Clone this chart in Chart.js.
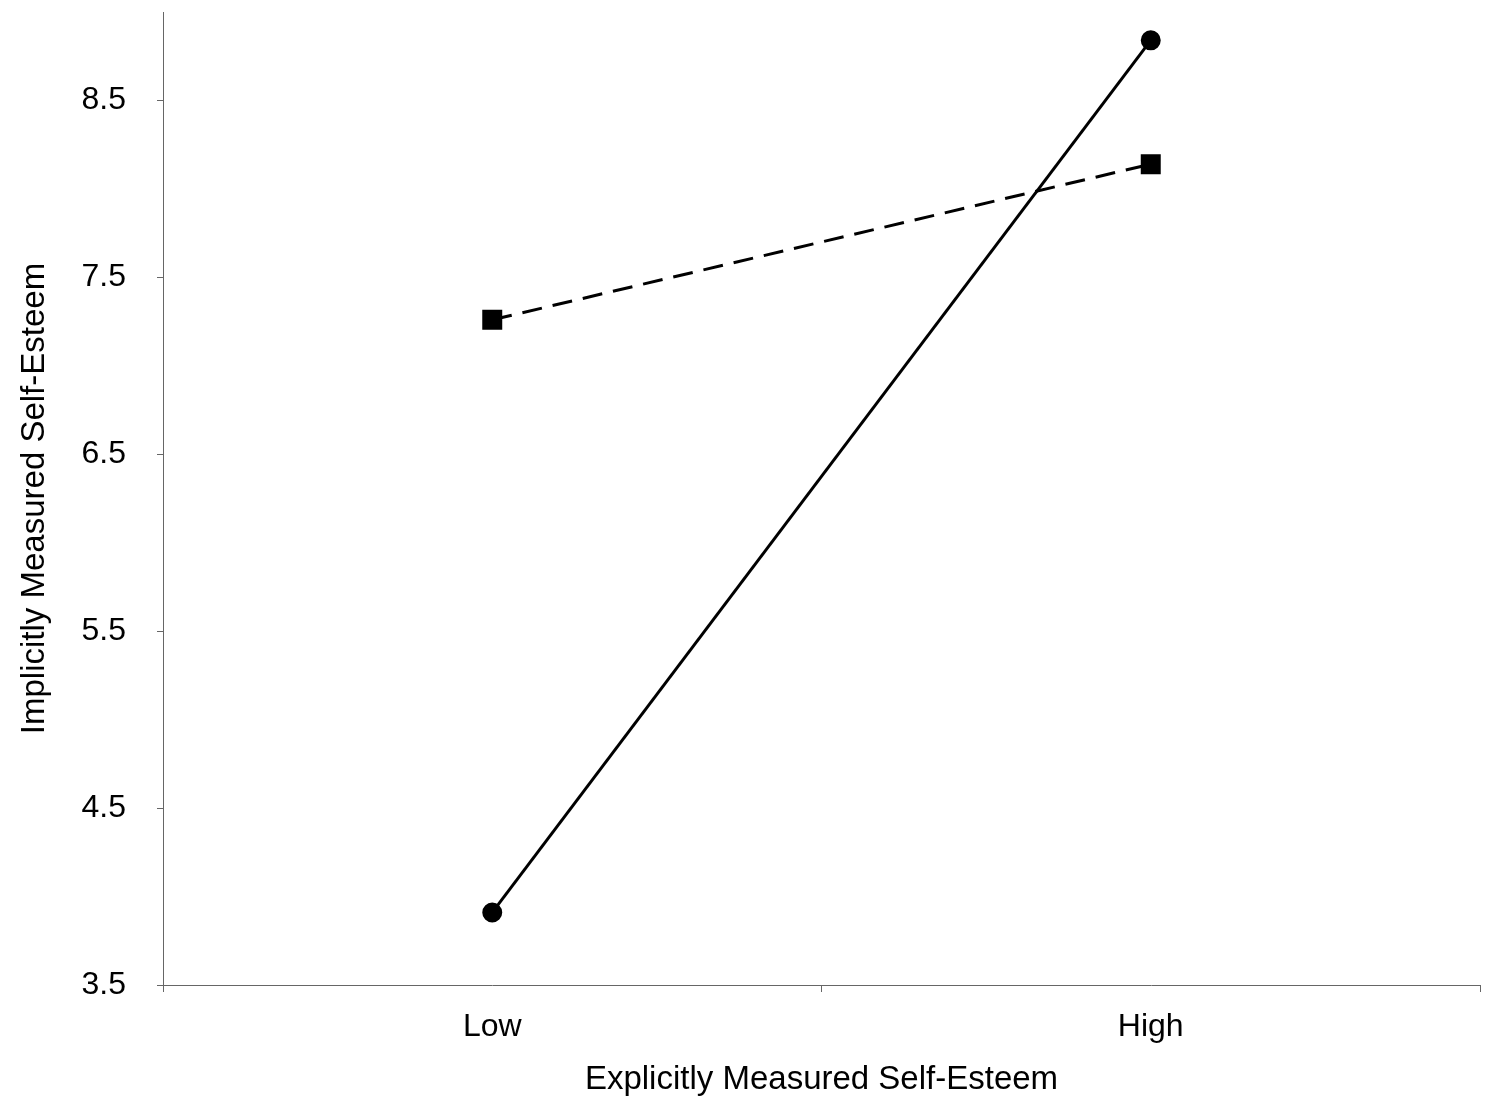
<!DOCTYPE html>
<html>
<head>
<meta charset="utf-8">
<script src="https://cdn.jsdelivr.net/npm/chart.js@4"></script>
<style>
  html, body { margin: 0; padding: 0; background: #fff; }
  #wrap { width: 1494px; height: 1100px; }
</style>
</head>
<body>
<div id="wrap"><canvas id="line-chart" width="1494" height="1100"></canvas></div>
<script>
categories = ['Low', 'High'];
solidValues = [3.91, 8.84];   // circles, solid line
dashedValues = [7.26, 8.14];  // squares, dashed line
yTicks = [3.5, 4.5, 5.5, 6.5, 7.5, 8.5];
xTitle = 'Explicitly Measured Self-Esteem';
yTitle = 'Implicitly Measured Self-Esteem';

font = 'Liberation Sans, Arial, Helvetica, sans-serif';

datasets = [
  {data: solidValues, borderColor: '#000', backgroundColor: '#000', borderWidth: 3,
   pointStyle: 'circle', pointRadius: 8.5, pointHoverRadius: 8.5, tension: 0},
  {data: dashedValues, borderColor: '#000', backgroundColor: '#000', borderWidth: 3,
   borderDash: [20, 11], pointStyle: 'rect', pointRadius: 12, pointHoverRadius: 12, tension: 0}
];

const createChart = () => {
  new Chart(document.getElementById('line-chart'), {
    type: 'line',
    data: {labels: categories, datasets: datasets},
    options: {
      responsive: false,
      animation: false,
      layout: {autoPadding: false, padding: {top: 12, right: 14, left: 10, bottom: 0}},
      plugins: {legend: {display: false}, tooltip: {enabled: false}},
      scales: {
        x: {
          offset: true,
          grid: {offset: true, drawOnChartArea: false, tickLength: 7, color: '#666'},
          border: {color: '#666', width: 1},
          ticks: {color: '#000', font: {family: font, size: 32}, padding: 16},
          title: {display: true, text: xTitle, color: '#000', font: {family: font, size: 33}, padding: {top: 0, bottom: 0}},
          afterFit: (s) => { s.height = 115; s.paddingLeft = 0; s.paddingRight = 0; }
        },
        y: {
          min: 3.5,
          max: 9.0,
          afterBuildTicks: (axis) => { axis.ticks = yTicks.map(v => ({value: v})); },
          grid: {drawOnChartArea: false, tickLength: 6, color: '#666'},
          border: {color: '#666', width: 1},
          ticks: {color: '#000', font: {family: font, size: 32}, padding: 31,
                  callback: (v) => Number(v).toFixed(1)},
          title: {display: true, text: yTitle, color: '#000', font: {family: font, size: 33}, padding: {top: 5, bottom: 0}},
          afterFit: (s) => { s.width = 153; s.paddingTop = 0; s.paddingBottom = 0; }
        }
      }
    }
  });
};

createChart();
</script>
</body>
</html>
